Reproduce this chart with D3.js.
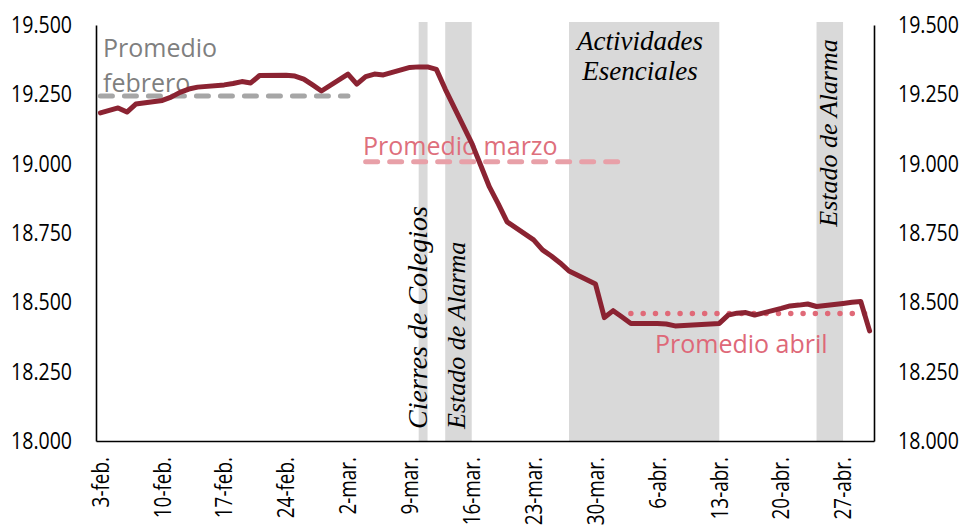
<!DOCTYPE html>
<html>
<head>
<meta charset="utf-8">
<script src="https://cdn.jsdelivr.net/npm/d3@7"></script>
<style>
  html, body { margin: 0; padding: 0; background: #ffffff; }
  svg { display: block; }
</style>
</head>
<body>
<svg id="chart" width="963" height="528"></svg>
<script>
// ---------- DATA ----------
// Afiliados (miles), días laborables
const obsDates = [
  "2020-02-03","2020-02-04","2020-02-05","2020-02-06","2020-02-07",
  "2020-02-10","2020-02-11","2020-02-12","2020-02-13","2020-02-14",
  "2020-02-17","2020-02-18","2020-02-19","2020-02-20","2020-02-21",
  "2020-02-24","2020-02-25","2020-02-26","2020-02-27","2020-02-28",
  "2020-03-02","2020-03-03","2020-03-04","2020-03-05","2020-03-06",
  "2020-03-09","2020-03-10","2020-03-11","2020-03-12","2020-03-13",
  "2020-03-16","2020-03-17","2020-03-18","2020-03-19","2020-03-20",
  "2020-03-23","2020-03-24","2020-03-25","2020-03-26","2020-03-27",
  "2020-03-30","2020-03-31","2020-04-01","2020-04-02","2020-04-03",
  "2020-04-06","2020-04-07","2020-04-08",
  "2020-04-13","2020-04-14","2020-04-15","2020-04-16","2020-04-17",
  "2020-04-20","2020-04-21","2020-04-22","2020-04-23","2020-04-24",
  "2020-04-27","2020-04-28","2020-04-29","2020-04-30"
];
const afiliados = [
  19183,19192,19201,19186,19215,
  19228,19240,19257,19269,19276,
  19284,19289,19296,19291,19318,
  19319,19316,19305,19284,19262,
  19323,19287,19314,19323,19320,
  19347,19349,19349,19340,19269,
  19074,18995,18916,18855,18790,
  18725,18689,18667,18642,18613,
  18566,18445,18470,18447,18424,
  18424,18422,18415,
  18424,18454,18461,18463,18454,
  18478,18487,18490,18494,18485,
  18496,18500,18503,18397
];

// Promedios mensuales
const avgNames  = ["Promedio febrero", "Promedio marzo", "Promedio abril"];
const avgValues = [19244, 19007, 18460];
const avgStart  = ["2020-02-03", "2020-03-04", "2020-04-03"];
const avgEnd    = ["2020-03-02", "2020-04-02", "2020-04-30"];

// Periodos sombreados
const shadeNames = ["Cierres de Colegios", "Estado de Alarma", "Actividades Esenciales", "Estado de Alarma"];
const shadeStart = ["2020-03-10", "2020-03-13", "2020-03-27", "2020-04-24"];
const shadeEnd   = ["2020-03-11", "2020-03-16", "2020-04-13", "2020-04-27"];

// Ejes
const firstDay = "2020-02-03";
const lastDay  = "2020-04-30";
const xTickDates = ["2020-02-03","2020-02-10","2020-02-17","2020-02-24","2020-03-02","2020-03-09",
  "2020-03-16","2020-03-23","2020-03-30","2020-04-06","2020-04-13","2020-04-20","2020-04-27"];
const monthAbbr = ["ene","feb","mar","abr","may","jun","jul","ago","sep","oct","nov","dic"];
const yTicks = [18000, 18250, 18500, 18750, 19000, 19250, 19500];
const yMin = 18000, yMax = 19500;

// ---------- CHART ----------
const svg = d3.select("#chart");
const L = 96, R = 874, T = 25, B = 441;
const parse = d3.timeParse("%Y-%m-%d");
const fmtKey = d3.timeFormat("%Y-%m-%d");
const allDays = d3.timeDay.range(parse(firstDay), d3.timeDay.offset(parse(lastDay), 1)).map(fmtKey);

const x = d3.scaleBand().domain(allDays).range([L, R]).padding(0);
const cx = k => x(k) + x.bandwidth() / 2;
const y = d3.scaleLinear().domain([yMin, yMax]).range([B, T]);

const es = d3.formatLocale({decimal: ",", thousands: ".", grouping: [3], currency: ["", "€"]});
const fmtY = es.format(",.0f");

// shaded bands
svg.append("g").selectAll("rect").data(shadeStart).join("rect")
  .attr("x", (d, i) => cx(d))
  .attr("width", (d, i) => cx(shadeEnd[i]) - cx(d))
  .attr("y", y(yMax) - 3)
  .attr("height", B - y(yMax) + 3)
  .attr("fill", "#d9d9d9");

// axes
const tickFont = "'Open Sans', sans-serif";
const tickSize = 23;
const gL = svg.append("g").attr("transform", `translate(${L},0)`)
  .call(d3.axisLeft(y).tickValues(yTicks).tickSize(0).tickSizeOuter(0).tickFormat(fmtY));
const gR = svg.append("g").attr("transform", `translate(${R},0)`)
  .call(d3.axisRight(y).tickValues(yTicks).tickSize(0).tickSizeOuter(0).tickFormat(fmtY));
const gB = svg.append("g").attr("transform", `translate(0,${B})`)
  .call(d3.axisBottom(x).tickValues(xTickDates).tickSize(0).tickSizeOuter(0)
    .tickFormat(k => { const d = parse(k); return d.getDate() + "-" + monthAbbr[d.getMonth()] + "."; }));
[gL, gR, gB].forEach(g => {
  g.select(".domain").attr("stroke", "#000").attr("stroke-width", 1.6);
  g.selectAll("text").attr("font-family", tickFont).attr("font-size", tickSize).attr("fill", "#000");
});
// condense tick labels horizontally (the original uses a narrow humanist face)
const refW = gL.select("text").node().getComputedTextLength();
const kY = 61 / refW;
const kX = 59 / refW;
gL.selectAll("text").attr("x", -24 / kY).attr("transform", `scale(${kY},1)`);
gR.selectAll("text").attr("x", 24 / kY).attr("transform", `scale(${kY},1)`);
gB.selectAll("text")
  .attr("transform", `rotate(-90) scale(${kX},1)`)
  .attr("x", -16 / kX).attr("y", 0).attr("dy", "0.36em")
  .attr("text-anchor", "end");

// italic labels
const serif = "'Liberation Serif', 'Times New Roman', serif";
function vlabel(text, px, py, size, anchor) {
  svg.append("text").attr("transform", `translate(${px},${py}) rotate(-90)`)
    .attr("text-anchor", anchor).attr("font-family", serif).attr("font-style", "italic")
    .attr("font-size", size).attr("fill", "#000").text(text);
}
vlabel(shadeNames[0], 427, 429, 28, "start");
vlabel(shadeNames[1], 465, 429, 26, "start");
vlabel(shadeNames[3], 837, 133, 26, "middle");
const act = shadeNames[2].split(" ");
svg.append("text").attr("x", 640).attr("y", 50).attr("text-anchor", "middle")
  .attr("font-family", serif).attr("font-style", "italic").attr("font-size", 27).text(act[0]);
svg.append("text").attr("x", 640).attr("y", 80).attr("text-anchor", "middle")
  .attr("font-family", serif).attr("font-style", "italic").attr("font-size", 27).text(act[1]);

// average labels
const sans = "'Open Sans', 'Noto Sans', sans-serif";
const febWords = avgNames[0].split(" ");
svg.append("text").attr("x", 103).attr("y", 57).attr("font-family", sans).attr("font-size", 25)
  .attr("fill", "#7f7f7f").text(febWords[0]);
svg.append("text").attr("x", 103).attr("y", 92).attr("font-family", sans).attr("font-size", 25)
  .attr("fill", "#7f7f7f").text(febWords[1]);
svg.append("text").attr("x", 363).attr("y", 155).attr("font-family", sans).attr("font-size", 25)
  .attr("fill", "#de6f7c").text(avgNames[1]);
svg.append("text").attr("x", 655).attr("y", 353).attr("font-family", sans).attr("font-size", 25)
  .attr("fill", "#de6878").text(avgNames[2]);

// average lines
const avgStyles = [
  {stroke: "#a6a6a6", dash: "12 12", w: 5},
  {stroke: "#e8a0a8", dash: "12 12", w: 5},
  {stroke: "#e06a78", dash: "0 12.3", w: 5.5}
];
svg.append("g").selectAll("line").data(avgValues).join("line")
  .attr("x1", (d, i) => cx(avgStart[i]))
  .attr("x2", (d, i) => cx(avgEnd[i]))
  .attr("y1", d => y(d)).attr("y2", d => y(d))
  .attr("stroke", (d, i) => avgStyles[i].stroke)
  .attr("stroke-width", (d, i) => avgStyles[i].w)
  .attr("stroke-dasharray", (d, i) => avgStyles[i].dash)
  .attr("stroke-linecap", "round");

// main line
const pts = obsDates.map((k, i) => [cx(k), y(afiliados[i])]);
svg.append("path").attr("d", d3.line()(pts))
  .attr("fill", "none").attr("stroke", "#8b2332").attr("stroke-width", 5)
  .attr("stroke-linejoin", "round").attr("stroke-linecap", "round");
</script>
</body>
</html>
